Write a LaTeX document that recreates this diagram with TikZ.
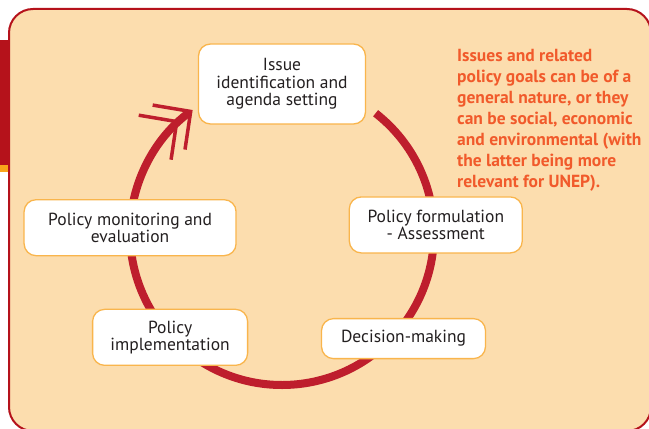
\documentclass[tikz,border=0pt]{standalone}
\usepackage{fontspec}
\setmainfont{PT Sans}
\usetikzlibrary{arrows.meta}
\definecolor{panel}{HTML}{FCDDAE}
\definecolor{panelline}{HTML}{B5121B}
\definecolor{cyclered}{HTML}{BE1E2D}
\definecolor{boxline}{HTML}{F9B54C}
\definecolor{barorange}{HTML}{F9A51A}
\definecolor{notetext}{HTML}{F15A2B}
\definecolor{ink}{HTML}{231F20}
\tikzset{
  stage/.style={draw=boxline, line width=1.3pt, fill=white, rounded corners=12pt,
    align=center, text=ink, inner sep=2pt, font=\fontsize{17.5}{17.5}\selectfont},
  cycle/.style={draw=cyclered, line width=8pt,
    -{Straight Barb[length=27pt,width=55pt,line width=3.5pt,sep=-14pt]Straight Barb[length=27pt,width=55pt,line width=3.5pt]}},
}
\begin{document}
\begin{tikzpicture}[x=1pt,y=1pt]
  \useasboundingbox (0,0) rectangle (649,429);
  \begin{scope}
    \clip (0,0) rectangle (649,429);
    \fill[panelline] (0,264) rectangle (9,389);
    \fill[barorange] (0,257) rectangle (9,264);
    \draw[panelline, fill=panel, line width=2pt, rounded corners=24pt] (9,-2) rectangle (651,420);
  \end{scope}
  \begin{scope}[shift={(282,196)}]
    \coordinate (s) at (52:152);
    \draw[cycle] (s) arc[start angle=52, end angle=-234, radius=152];
    \draw
      (90:149) node[stage, minimum width=167pt, minimum height=80pt] (0){Issue\\identification and\\agenda setting}
      (3:154) node[stage, minimum width=173pt, minimum height=56pt] (1){Policy formulation\\- Assessment}
      (-41:161) node[stage, minimum width=164pt, minimum height=40pt] (2){Decision-making}
      (-137:153) node[stage, minimum width=155pt, minimum height=56pt] (3){Policy\\implementation}
      (178:152) node[stage, minimum width=212pt, minimum height=56pt] (4){Policy monitoring and\\evaluation};
  \end{scope}
  \node[anchor=north west, align=left, inner sep=0pt, text=notetext,
    font=\bfseries\fontsize{17.5}{21}\selectfont] (note) at (457,380)
    {Issues and related\\policy goals can be of a\\general nature, or they\\can be social, economic\\and environmental (with\\the latter being more\\relevant for UNEP).};
\end{tikzpicture}
\end{document}
